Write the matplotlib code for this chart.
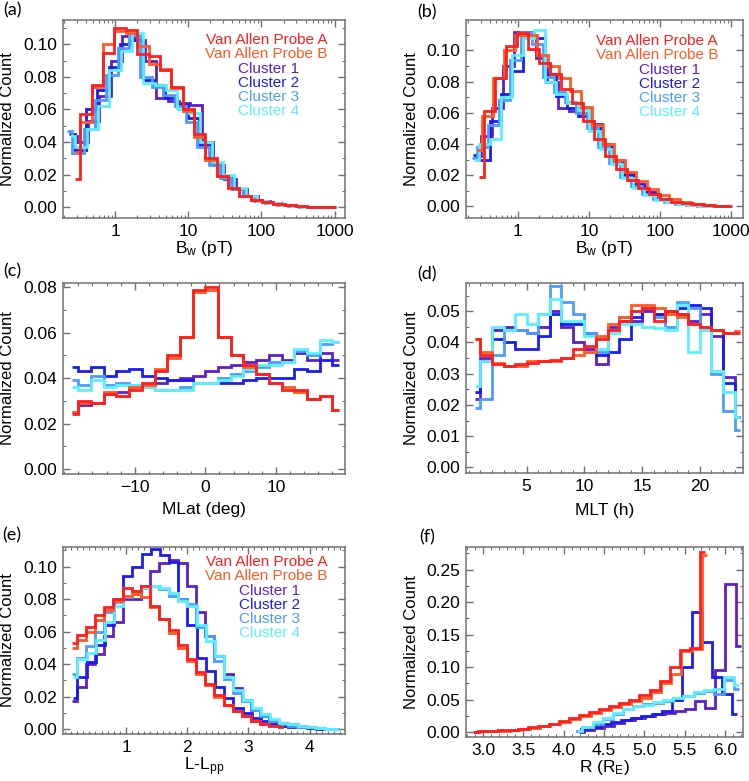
import numpy as np
import matplotlib.pyplot as plt
from matplotlib.ticker import MultipleLocator, LogLocator, FixedLocator, NullFormatter, FormatStrFormatter

plt.rcParams['font.family'] = ['Liberation Sans', 'DejaVu Sans']
plt.rcParams['mathtext.fontset'] = 'custom'
plt.rcParams['mathtext.rm'] = 'Liberation Sans'
plt.rcParams['mathtext.it'] = 'Liberation Sans'

names = ['Van Allen Probe A', 'Van Allen Probe B', 'Cluster 1', 'Cluster 2', 'Cluster 3', 'Cluster 4']
colors = ['#ff1f1f', '#ff5a23', '#5e1fc4', '#1c1cf0', '#4c9cff', '#5cf0ff']

# ---- (a) B_w, log10 bin centres: first centre per series, common step
a_start = [-0.55, -0.55, -0.60, -0.63, -0.66, -0.62]
a_step = 0.155
a_rbspa = [0.017, 0.057, 0.075, 0.095, 0.110, 0.109, 0.094, 0.093, 0.084, 0.074, 0.060, 0.045,
           0.030, 0.019, 0.012, 0.007, 0.0045, 0.003, 0.0018, 0.001, 0.0006, 0.0003, 0.0001, 0.0]
a_rbspb = [0.034, 0.052, 0.074, 0.100, 0.108, 0.107, 0.099, 0.088, 0.085, 0.073, 0.059, 0.043,
           0.029, 0.019, 0.012, 0.007, 0.0045, 0.003, 0.0018, 0.001, 0.0006, 0.0003, 0.0001, 0.0]
a_c1 = [0.044, 0.040, 0.053, 0.068, 0.090, 0.105, 0.103, 0.090, 0.067, 0.065, 0.064, 0.063,
        0.040, 0.026, 0.017, 0.011, 0.007, 0.004, 0.0025, 0.0014, 0.0007, 0.0003, 0.0]
a_c2 = [0.045, 0.035, 0.060, 0.072, 0.086, 0.100, 0.103, 0.078, 0.075, 0.067, 0.063, 0.055,
        0.038, 0.027, 0.018, 0.011, 0.007, 0.004, 0.0025, 0.0014, 0.0007, 0.0003, 0.0]
a_c3 = [0.047, 0.033, 0.048, 0.066, 0.081, 0.098, 0.106, 0.080, 0.074, 0.069, 0.062, 0.052,
        0.037, 0.026, 0.018, 0.011, 0.007, 0.004, 0.0025, 0.0013, 0.0006, 0.0002, 0.0]
a_c4 = [0.044, 0.037, 0.048, 0.062, 0.084, 0.096, 0.107, 0.076, 0.075, 0.072, 0.060, 0.058,
        0.040, 0.028, 0.020, 0.012, 0.007, 0.004, 0.0025, 0.0014, 0.0007, 0.0003, 0.0]

# ---- (b) B_w, second set
b_start = [-0.55, -0.58, -0.60, -0.63, -0.65, -0.62]
b_step = 0.155
b_rbspa = [0.019, 0.061, 0.082, 0.103, 0.111, 0.101, 0.092, 0.085, 0.075, 0.066, 0.055, 0.043,
           0.032, 0.024, 0.017, 0.012, 0.008, 0.005, 0.003, 0.002, 0.0012, 0.0006, 0.0002, 0.0]
b_rbspb = [0.036, 0.058, 0.082, 0.100, 0.110, 0.110, 0.097, 0.090, 0.082, 0.074, 0.064, 0.052,
           0.040, 0.030, 0.022, 0.016, 0.011, 0.007, 0.0045, 0.003, 0.0018, 0.001, 0.0004, 0.0]
b_c1 = [0.032, 0.045, 0.063, 0.090, 0.112, 0.110, 0.095, 0.080, 0.063, 0.061, 0.063, 0.053,
        0.038, 0.028, 0.020, 0.013, 0.008, 0.005, 0.003, 0.0015, 0.0007, 0.0003, 0.0]
b_c2 = [0.033, 0.030, 0.055, 0.072, 0.087, 0.112, 0.108, 0.085, 0.071, 0.063, 0.058, 0.050,
        0.040, 0.030, 0.021, 0.014, 0.009, 0.005, 0.003, 0.0015, 0.0007, 0.0003, 0.0]
b_c3 = [0.031, 0.038, 0.052, 0.068, 0.094, 0.112, 0.104, 0.083, 0.073, 0.067, 0.060, 0.050,
        0.038, 0.028, 0.019, 0.013, 0.008, 0.005, 0.003, 0.0015, 0.0007, 0.0003, 0.0]
b_c4 = [0.030, 0.040, 0.043, 0.070, 0.097, 0.108, 0.113, 0.080, 0.072, 0.066, 0.062, 0.048,
        0.037, 0.027, 0.018, 0.012, 0.007, 0.004, 0.0025, 0.0013, 0.0006, 0.0002, 0.0]

# ---- (c) MLat (deg)
c_start = [-18.9, -18.9, -18.9, -18.9, -18.9, -18.9]
c_step = 1.8
c_rbspa = [0.024, 0.030, 0.029, 0.033, 0.032, 0.035, 0.038, 0.043, 0.050, 0.058, 0.079,
           0.080, 0.058, 0.050, 0.046, 0.042, 0.038, 0.035, 0.035, 0.031, 0.032, 0.026]
c_rbspb = [0.025, 0.029, 0.029, 0.034, 0.032, 0.036, 0.037, 0.044, 0.049, 0.058, 0.078,
           0.079, 0.058, 0.050, 0.045, 0.042, 0.038, 0.036, 0.034, 0.031, 0.032, 0.026]
c_c1 = [0.025, 0.028, 0.029, 0.033, 0.034, 0.036, 0.037, 0.038, 0.039, 0.040, 0.041,
        0.043, 0.045, 0.046, 0.047, 0.048, 0.050, 0.048, 0.051, 0.048, 0.051, 0.048]
c_c2 = [0.045, 0.043, 0.045, 0.041, 0.043, 0.044, 0.041, 0.040, 0.039, 0.039, 0.038,
        0.038, 0.038, 0.038, 0.039, 0.040, 0.040, 0.040, 0.044, 0.043, 0.048, 0.046]
c_c3 = [0.039, 0.037, 0.041, 0.037, 0.038, 0.037, 0.036, 0.035, 0.035, 0.036, 0.038,
        0.038, 0.040, 0.042, 0.043, 0.045, 0.047, 0.047, 0.052, 0.050, 0.055, 0.056]
c_c4 = [0.036, 0.035, 0.039, 0.036, 0.037, 0.037, 0.036, 0.035, 0.035, 0.035, 0.038,
        0.038, 0.039, 0.041, 0.044, 0.046, 0.046, 0.047, 0.053, 0.051, 0.057, 0.056]

# ---- (d) MLT (h)
d_start = [0.5, 0.5, 0.5, 0.5, 0.5, 0.5]
d_step = 1.0
d_rbspa = [0.041, 0.036, 0.033, 0.0325, 0.033, 0.0335, 0.034, 0.0345, 0.035, 0.038, 0.039, 0.041,
           0.044, 0.047, 0.050, 0.051, 0.047, 0.050, 0.049, 0.046, 0.045, 0.044, 0.043, 0.043]
d_rbspb = [0.041, 0.037, 0.0335, 0.0325, 0.0325, 0.034, 0.034, 0.034, 0.035, 0.036, 0.037, 0.042,
           0.046, 0.048, 0.052, 0.052, 0.051, 0.049, 0.048, 0.046, 0.045, 0.044, 0.043, 0.0435]
d_c1 = [0.022, 0.035, 0.044, 0.045, 0.044, 0.043, 0.045, 0.050, 0.045, 0.040, 0.038, 0.033,
        0.045, 0.047, 0.047, 0.050, 0.049, 0.050, 0.049, 0.047, 0.049, 0.042, 0.029, 0.016]
d_c2 = [0.024, 0.034, 0.041, 0.040, 0.038, 0.038, 0.042, 0.049, 0.046, 0.046, 0.043, 0.036,
        0.037, 0.041, 0.048, 0.051, 0.049, 0.050, 0.051, 0.052, 0.051, 0.044, 0.027, 0.016]
d_c3 = [0.019, 0.022, 0.036, 0.044, 0.044, 0.043, 0.049, 0.058, 0.053, 0.049, 0.043, 0.037,
        0.044, 0.048, 0.050, 0.051, 0.048, 0.045, 0.053, 0.051, 0.044, 0.030, 0.018, 0.012]
d_c4 = [0.026, 0.034, 0.045, 0.044, 0.049, 0.046, 0.049, 0.054, 0.047, 0.047, 0.042, 0.038,
        0.043, 0.046, 0.046, 0.045, 0.0445, 0.044, 0.052, 0.037, 0.044, 0.031, 0.024, 0.016]

# ---- (e) L - Lpp
e_start = [0.12, 0.12, 0.12, 0.13, 0.12, 0.13]
e_step = 0.15
e_rbspa = [0.053, 0.058, 0.063, 0.070, 0.075, 0.080, 0.087, 0.085, 0.088, 0.076, 0.068, 0.061,
           0.052, 0.043, 0.035, 0.028, 0.021, 0.015, 0.011, 0.008, 0.005, 0.003, 0.002, 0.001]
e_rbspb = [0.050, 0.055, 0.060, 0.067, 0.073, 0.079, 0.082, 0.083, 0.081, 0.075, 0.068, 0.059,
           0.050, 0.042, 0.034, 0.027, 0.020, 0.015, 0.011, 0.008, 0.005, 0.003, 0.002, 0.001]
e_c1 = [0.017, 0.026, 0.040, 0.046, 0.057, 0.066, 0.080, 0.080, 0.088, 0.097, 0.102, 0.104,
        0.102, 0.088, 0.072, 0.057, 0.045, 0.034, 0.025, 0.018, 0.012, 0.008, 0.005, 0.004,
        0.003, 0.002, 0.001, 0.0006, 0.0003, 0.0]
e_c2 = [0.019, 0.032, 0.041, 0.052, 0.064, 0.080, 0.094, 0.100, 0.108, 0.111, 0.107, 0.103,
        0.080, 0.064, 0.044, 0.036, 0.026, 0.019, 0.013, 0.010, 0.007, 0.005, 0.003, 0.002,
        0.0015, 0.001, 0.0006, 0.0003, 0.0001, 0.0]
e_c3 = [0.034, 0.044, 0.051, 0.060, 0.072, 0.078, 0.081, 0.085, 0.087, 0.088, 0.086, 0.082,
        0.080, 0.077, 0.063, 0.057, 0.042, 0.031, 0.022, 0.017, 0.012, 0.008, 0.005, 0.003,
        0.002, 0.0015, 0.001, 0.0005, 0.0002, 0.0]
e_c4 = [0.032, 0.043, 0.047, 0.055, 0.066, 0.076, 0.082, 0.085, 0.087, 0.088, 0.087, 0.084,
        0.079, 0.076, 0.064, 0.054, 0.045, 0.032, 0.024, 0.018, 0.013, 0.009, 0.006, 0.004,
        0.003, 0.002, 0.0012, 0.0006, 0.0002, 0.0]

# ---- (f) R (R_E)
f_start = [2.875, 2.895, 4.19, 4.15, 4.17, 4.17]
f_step = 0.125
f_rbspa = [0.0005, 0.001, 0.0015, 0.0025, 0.0035, 0.005, 0.007, 0.010, 0.013, 0.017, 0.021, 0.026,
           0.031, 0.035, 0.040, 0.045, 0.050, 0.057, 0.065, 0.078, 0.100, 0.127, 0.130, 0.278]
f_rbspb = [0.0005, 0.001, 0.0015, 0.002, 0.003, 0.0045, 0.0065, 0.009, 0.012, 0.016, 0.020, 0.025,
           0.030, 0.034, 0.038, 0.043, 0.048, 0.052, 0.062, 0.075, 0.090, 0.125, 0.128, 0.272]
f_c1 = [0.000, 0.003, 0.006, 0.010, 0.014, 0.018, 0.021, 0.024, 0.027, 0.030, 0.033, 0.036,
        0.048, 0.037, 0.095, 0.228, 0.133]
f_c2 = [0.001, 0.004, 0.008, 0.012, 0.016, 0.019, 0.022, 0.025, 0.028, 0.032, 0.050, 0.100,
        0.185, 0.138, 0.085, 0.058, 0.028]
f_c3 = [0.001, 0.007, 0.013, 0.020, 0.027, 0.035, 0.040, 0.043, 0.045, 0.048, 0.052, 0.055,
        0.060, 0.063, 0.058, 0.080, 0.066]
f_c4 = [0.001, 0.008, 0.015, 0.022, 0.030, 0.036, 0.040, 0.042, 0.046, 0.050, 0.053, 0.056,
        0.062, 0.064, 0.066, 0.085, 0.072]

W, H = 749, 781
fig = plt.figure(figsize=(W / 100, H / 100), dpi=100)


def box(l, t, r, b):
    return [l / W, 1 - b / H, (r - l) / W, (b - t) / H]


def step_xy(u, y):
    # IDL psym=10 style: steps at midpoints, half bins at the ends
    mids = (u[:-1] + u[1:]) / 2
    left = np.concatenate([[u[0]], mids])
    right = np.concatenate([mids, [u[-1]]])
    return np.column_stack([left, right]).ravel(), np.repeat(y, 2)


def draw(ax, starts, step, series, log=False):
    order = [2, 3, 4, 5, 1, 0]
    for i in order:
        vals = np.array(series[i])
        u = starts[i] + step * np.arange(len(vals))
        xs, ys = step_xy(u, vals)
        if log:
            xs = 10 ** xs
        ax.plot(xs, ys, color=colors[i], lw=2.0, solid_joinstyle='miter', solid_capstyle='butt')


def style(ax, xlabel, xlab_y):
    for s in ax.spines.values():
        s.set_color('#707070')
        s.set_linewidth(1.1)
    ax.tick_params(which='both', direction='in', top=True, right=True, colors='#707070',
                   labelcolor='black', labelsize=12.5)
    ax.tick_params(which='major', length=5, width=1, pad=4)
    ax.tick_params(which='minor', length=2.5, width=0.8)
    ax.set_ylabel('Normalized Count', fontsize=12)
    ax.yaxis.set_label_coords(-0.17, 0.5)
    ax.set_xlabel(xlabel, fontsize=12.5, va='center')
    ax.xaxis.set_label_coords(0.5, xlab_y)


# (a)
ax = fig.add_axes(box(63, 20, 345, 218))
draw(ax, a_start, a_step, [a_rbspa, a_rbspb, a_c1, a_c2, a_c3, a_c4], log=True)
ax.set_xscale('log')
ax.set_xlim(10 ** -0.71, 10 ** 3.14)
ax.set_ylim(-0.0067, 0.115)
ax.xaxis.set_major_locator(FixedLocator([1, 10, 100, 1000]))
ax.xaxis.set_major_formatter(FormatStrFormatter('%g'))
ax.xaxis.set_minor_locator(LogLocator(subs=np.arange(2, 10), numticks=20))
ax.xaxis.set_minor_formatter(NullFormatter())
ax.yaxis.set_major_locator(MultipleLocator(0.02))
ax.yaxis.set_minor_locator(MultipleLocator(0.01))
ax.yaxis.set_major_formatter(FormatStrFormatter('%.2f'))
style(ax, r'B$_\mathrm{w}$ (pT)', -0.152)

# (b)
ax = fig.add_axes(box(466, 20, 743, 218))
draw(ax, b_start, b_step, [b_rbspa, b_rbspb, b_c1, b_c2, b_c3, b_c4], log=True)
ax.set_xscale('log')
ax.set_xlim(10 ** -0.73, 10 ** 3.17)
ax.set_ylim(-0.0075, 0.1195)
ax.xaxis.set_major_locator(FixedLocator([1, 10, 100, 1000]))
ax.xaxis.set_major_formatter(FormatStrFormatter('%g'))
ax.xaxis.set_minor_locator(LogLocator(subs=np.arange(2, 10), numticks=20))
ax.xaxis.set_minor_formatter(NullFormatter())
ax.yaxis.set_major_locator(MultipleLocator(0.02))
ax.yaxis.set_minor_locator(MultipleLocator(0.01))
ax.yaxis.set_major_formatter(FormatStrFormatter('%.2f'))
style(ax, r'B$_\mathrm{w}$ (pT)', -0.152)

# (c)
ax = fig.add_axes(box(63, 283, 345, 474))
draw(ax, c_start, c_step, [c_rbspa, c_rbspb, c_c1, c_c2, c_c3, c_c4])
ax.set_xlim(-20.17, 19.8)
ax.set_ylim(-0.0022, 0.0819)
ax.xaxis.set_major_locator(FixedLocator([-10, 0, 10]))
ax.xaxis.set_minor_locator(MultipleLocator(2))
ax.yaxis.set_major_locator(MultipleLocator(0.02))
ax.yaxis.set_minor_locator(MultipleLocator(0.01))
ax.yaxis.set_major_formatter(FormatStrFormatter('%.2f'))
style(ax, 'MLat (deg)', -0.188)

# (d)
ax = fig.add_axes(box(466, 283, 743, 473))
draw(ax, d_start, d_step, [d_rbspa, d_rbspb, d_c1, d_c2, d_c3, d_c4])
ax.set_xlim(-0.25, 23.73)
ax.set_ylim(-0.0018, 0.059)
ax.xaxis.set_major_locator(FixedLocator([5, 10, 15, 20]))
ax.xaxis.set_minor_locator(MultipleLocator(1))
ax.yaxis.set_major_locator(MultipleLocator(0.01))
ax.yaxis.set_minor_locator(MultipleLocator(0.005))
ax.yaxis.set_major_formatter(FormatStrFormatter('%.2f'))
style(ax, 'MLT (h)', -0.195)

# (e)
ax = fig.add_axes(box(63, 547, 345, 734))
draw(ax, e_start, e_step, [e_rbspa, e_rbspb, e_c1, e_c2, e_c3, e_c4])
ax.set_xlim(-0.03, 4.58)
ax.set_ylim(-0.003, 0.112)
ax.xaxis.set_major_locator(FixedLocator([1, 2, 3, 4]))
ax.xaxis.set_minor_locator(MultipleLocator(0.1))
ax.yaxis.set_major_locator(MultipleLocator(0.02))
ax.yaxis.set_minor_locator(MultipleLocator(0.01))
ax.yaxis.set_major_formatter(FormatStrFormatter('%.2f'))
style(ax, r'L-L$_\mathrm{pp}$', -0.176)

# (f)
ax = fig.add_axes(box(466, 547, 743, 737))
draw(ax, f_start, f_step, [f_rbspa, f_rbspb, f_c1, f_c2, f_c3, f_c4])
ax.set_xlim(2.79, 6.22)
ax.set_ylim(-0.0077, 0.285)
ax.xaxis.set_major_locator(FixedLocator([3.0, 3.5, 4.0, 4.5, 5.0, 5.5, 6.0]))
ax.xaxis.set_major_formatter(FormatStrFormatter('%.1f'))
ax.xaxis.set_minor_locator(MultipleLocator(0.1))
ax.yaxis.set_major_locator(MultipleLocator(0.05))
ax.yaxis.set_minor_locator(MultipleLocator(0.025))
ax.yaxis.set_major_formatter(FormatStrFormatter('%.2f'))
style(ax, r'R (R$_\mathrm{E}$)', -0.163)

# legends as coloured text
legend_spots = [(327, 299, 44), (718, 700, 45), (327, 300, 566)]
for xp, xc, yb in legend_spots:
    ys = [yb, yb + 14, yb + 29, yb + 43, yb + 57, yb + 71]
    for i in range(6):
        xr = xp if i < 2 else xc
        fig.text(xr / W, 1 - ys[i] / H, names[i], color=colors[i], fontsize=11,
                 ha='right', va='baseline')

# panel letters
for lab, xp, yp in [('(a)', 12, 10), ('(b)', 427, 12), ('(c)', 12, 271),
                    ('(d)', 427, 274), ('(e)', 12, 535), ('(f)', 427, 537)]:
    fig.text(xp / W, 1 - yp / H, lab, fontsize=13, ha='center', va='center',
             family=['Lato', 'DejaVu Sans'])

fig.savefig('out.png', dpi=100)
